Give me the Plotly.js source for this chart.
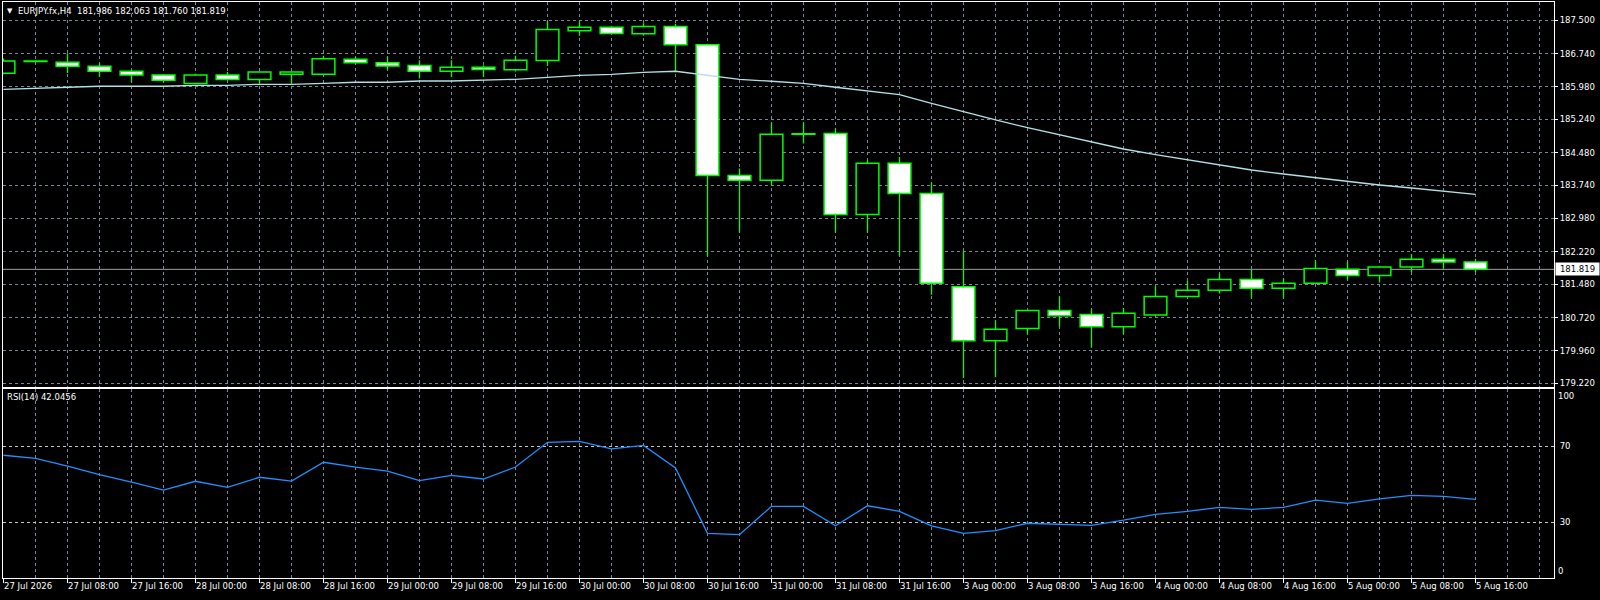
<!DOCTYPE html>
<html><head><meta charset="utf-8">
<script src="https://cdn.plot.ly/plotly-3.0.1.min.js"></script>
<style>html,body{margin:0;padding:0;background:#000;}#chart{width:1600px;height:600px;}</style>
</head><body><div id="chart"></div>
<script>
// ---- data (EURJPY.fx, H4) ----
const symbolTitle = 'EURJPY.fx,H4';
const headerValues = '181,986 182.063 181.760 181.819';
const openP  = [186.29,186.57,186.54,186.45,186.34,186.25,186.06,186.25,186.15,186.27,186.27,186.61,186.53,186.47,186.34,186.43,186.37,186.58,187.26,187.34,187.19,187.36,186.94,183.96,183.85,184.90,184.92,183.07,184.24,183.55,181.42,180.19,180.47,180.88,180.79,180.51,180.78,181.20,181.34,181.59,181.39,181.50,181.82,181.68,181.87,182.05,181.986];
const highP  = [186.63,186.58,186.75,186.52,186.36,186.26,186.28,186.32,186.32,186.33,186.69,186.67,186.67,186.59,186.59,186.47,186.69,187.48,187.48,187.35,187.43,187.42,186.95,184.12,185.16,185.17,185.03,184.31,184.38,183.80,182.24,180.65,180.88,181.20,180.91,180.94,181.44,181.56,181.73,181.82,181.61,182.03,182.00,181.89,182.17,182.16,182.063];
const lowP   = [186.27,186.55,186.30,186.21,186.08,186.08,186.05,186.15,186.05,186.05,186.27,186.53,186.37,186.17,186.21,186.21,186.33,186.46,187.15,187.20,187.15,186.33,182.11,182.66,183.74,184.69,182.66,182.66,182.13,181.24,179.34,179.36,180.34,180.51,180.03,180.34,180.77,181.19,181.27,181.16,181.16,181.49,181.57,181.52,181.75,181.84,181.760];
const closeP = [186.57,186.56,186.45,186.34,186.25,186.13,186.25,186.15,186.32,186.32,186.62,186.53,186.46,186.34,186.43,186.38,186.59,187.29,187.34,187.20,187.36,186.94,183.96,183.85,184.90,184.91,183.07,184.24,183.55,181.50,180.19,180.45,180.88,180.76,180.51,180.82,181.20,181.34,181.59,181.39,181.50,181.84,181.68,181.87,182.05,181.986,181.819];
const maValues = [185.926,185.949,185.972,185.995,185.995,185.995,186.017,186.017,186.040,186.040,186.063,186.086,186.086,186.115,186.115,186.131,186.154,186.200,186.245,186.268,186.314,186.337,186.245,186.154,186.109,186.063,185.972,185.887,185.803,185.607,185.415,185.226,185.050,184.884,184.717,184.564,184.434,184.313,184.199,184.085,183.994,183.910,183.812,183.743,183.675,183.606,183.531];
const rsiValues = [65.3,63.7,59.6,55.1,51.2,47.0,51.6,48.4,53.7,51.7,61.6,59.1,57.0,51.9,54.7,52.8,59.1,72.1,72.6,68.7,70.5,58.6,24.2,23.5,38.4,38.4,28.2,38.7,35.8,28.1,24.2,25.6,29.5,29.0,28.4,31.1,34.2,35.8,37.9,36.8,37.9,41.7,40.0,42.3,44.2,43.7,42.0456];
const timeTickLabels = ['27 Jul 2026','27 Jul 08:00','27 Jul 16:00','28 Jul 00:00','28 Jul 08:00','28 Jul 16:00','29 Jul 00:00','29 Jul 08:00','29 Jul 16:00','30 Jul 00:00','30 Jul 08:00','30 Jul 16:00','31 Jul 00:00','31 Jul 08:00','31 Jul 16:00','3 Aug 00:00','3 Aug 08:00','3 Aug 16:00','4 Aug 00:00','4 Aug 08:00','4 Aug 16:00','5 Aug 00:00','5 Aug 08:00','5 Aug 16:00'];
const priceTickLabels = ['187.500','186.740','185.980','185.240','184.480','183.740','182.980','182.220','181.480','180.720','179.960','179.220'];
const rsiTickLabels = ['70','30'];
const rsiPeriod = 14;

// ---- derived ----
const idx = openP.map((_, i) => i);
const last = idx.length - 1;
const bodyBase = idx.map(i => Math.min(openP[i], closeP[i]));
const bodyTop = idx.map(i => Math.max(openP[i], closeP[i]));
const bodyH = idx.map(i => bodyTop[i] - bodyBase[i]);
const bodyFill = idx.map(i => closeP[i] < openP[i] ? '#ffffff' : '#000000');
const wx = [], wy = [];
idx.forEach(i => {
  wx.push(i, i, null, i, i, null);
  wy.push(highP[i], bodyTop[i], null, bodyBase[i], lowP[i], null);
});

const FONT = 'DejaVu Sans, Tahoma, sans-serif';
const FS = 8.5;
const GRID = '#778899';
const DASH = '3px,3px';
const XR = [-0.0156, 48.453];

const traces = [
  {type:'scatter', mode:'lines', x:wx, y:wy, xaxis:'x', yaxis:'y', line:{color:'#00ff00', width:1.3}, hoverinfo:'skip', showlegend:false},
  {type:'bar', x:idx, base:bodyBase, y:bodyH, width:0.71, xaxis:'x', yaxis:'y',
   marker:{color:bodyFill, line:{color:'#00ff00', width:1.5}}, hoverinfo:'skip', showlegend:false},
  {type:'scatter', mode:'lines', x:idx, y:maValues, xaxis:'x', yaxis:'y', line:{color:'#b0e0e6', width:1.3}, hoverinfo:'skip', showlegend:false},
  {type:'scatter', mode:'lines', x:idx, y:rsiValues, xaxis:'x2', yaxis:'y2', line:{color:'#1e90ff', width:1.3}, hoverinfo:'skip', showlegend:false},
  {type:'scatter', mode:'lines', x:[XR[0]], y:[null], xaxis:'x3', yaxis:'y2', hoverinfo:'skip', showlegend:false}
];

const tickFont = {family:FONT, size:FS, color:'#ffffff'};
const layout = {
  width:1600, height:600,
  margin:{l:3, r:46, t:2, b:22, pad:0},
  paper_bgcolor:'#000000', plot_bgcolor:'#000000',
  showlegend:false, hovermode:false, barmode:'overlay', bargap:0,
  xaxis:{domain:[0,1], range:XR, anchor:'y', tickmode:'linear', tick0:0, dtick:1,
    showgrid:true, gridcolor:GRID, griddash:DASH, gridwidth:1, showticklabels:false, ticks:'',
    zeroline:false, showline:true, mirror:true, linecolor:'#ffffff', linewidth:1, fixedrange:true},
  yaxis:{domain:[0.3321,1], range:[179.142,187.917], anchor:'x', side:'right',
    tickmode:'array', tickvals:priceTickLabels.map(Number), ticktext:priceTickLabels,
    ticks:'outside', ticklen:3, tickcolor:'#ffffff', tickwidth:1, tickfont:tickFont,
    showgrid:true, gridcolor:GRID, griddash:DASH, gridwidth:1,
    zeroline:false, showline:true, mirror:true, linecolor:'#ffffff', linewidth:1, fixedrange:true},
  xaxis2:{domain:[0,1], range:XR, anchor:'y2', tickmode:'linear', tick0:0, dtick:1,
    showgrid:true, gridcolor:GRID, griddash:DASH, gridwidth:1, showticklabels:false, ticks:'',
    zeroline:false, showline:true, mirror:true, linecolor:'#ffffff', linewidth:1, fixedrange:true},
  xaxis3:{overlaying:'x2', anchor:'y2', range:XR, side:'bottom',
    tickmode:'array', tickvals:timeTickLabels.map((_, k) => 2*k), ticktext:timeTickLabels,
    ticks:'outside', ticklen:4, tickcolor:'#ffffff', tickwidth:1, tickfont:tickFont,
    ticklabelposition:'outside right', showgrid:false, zeroline:false, showline:false, fixedrange:true},
  yaxis2:{domain:[0,0.3286], range:[0.68,100.32], anchor:'x2', side:'right',
    tickmode:'array', tickvals:rsiTickLabels.map(Number), ticktext:rsiTickLabels,
    ticks:'', tickfont:tickFont, ticklabelstandoff:3,
    showgrid:true, gridcolor:'#c8c8c8', griddash:DASH, gridwidth:1,
    zeroline:false, showline:true, mirror:true, linecolor:'#ffffff', linewidth:1, fixedrange:true},
  shapes:[
    {type:'line', xref:'paper', x0:0, x1:1, yref:'y', y0:closeP[last], y1:closeP[last], line:{color:'#a0a0a0', width:1}, layer:'below'}
  ],
  annotations:[
    {xref:'paper', x:0, xanchor:'left', xshift:2, yref:'paper', y:1, yanchor:'top', yshift:-3,
     text:'▼', showarrow:false, font:{family:FONT, size:7, color:'#ffffff'}},
    {xref:'paper', x:0, xanchor:'left', xshift:13, yref:'paper', y:1, yanchor:'top', yshift:-2,
     text:symbolTitle + '\u00a0\u00a0' + headerValues, showarrow:false, font:{family:FONT, size:FS, color:'#ffffff'}},
    {xref:'paper', x:0, xanchor:'left', xshift:2, yref:'paper', y:0.3286, yanchor:'top', yshift:-1,
     text:'RSI(' + rsiPeriod + ') ' + rsiValues[last].toFixed(4), showarrow:false, font:{family:FONT, size:FS, color:'#ffffff'}},
    {xref:'paper', x:1, xanchor:'left', xshift:2, yref:'paper', y:0.3286, yanchor:'top', yshift:0,
     text:'100', showarrow:false, font:{family:FONT, size:FS, color:'#ffffff'}},
    {xref:'paper', x:1, xanchor:'left', xshift:2, yref:'paper', y:0, yanchor:'bottom', yshift:0,
     text:'0', showarrow:false, font:{family:FONT, size:FS, color:'#ffffff'}},
    {xref:'paper', x:1, xanchor:'left', xshift:1, yref:'y', y:closeP[last], yanchor:'middle',
     text:closeP[last].toFixed(3), showarrow:false, bgcolor:'#ffffff', borderpad:1, width:41, align:'center',
     font:{family:FONT, size:FS, color:'#000000'}}
  ]
};
Plotly.newPlot('chart', traces, layout, {staticPlot:true, displayModeBar:false});
</script>
</body></html>
